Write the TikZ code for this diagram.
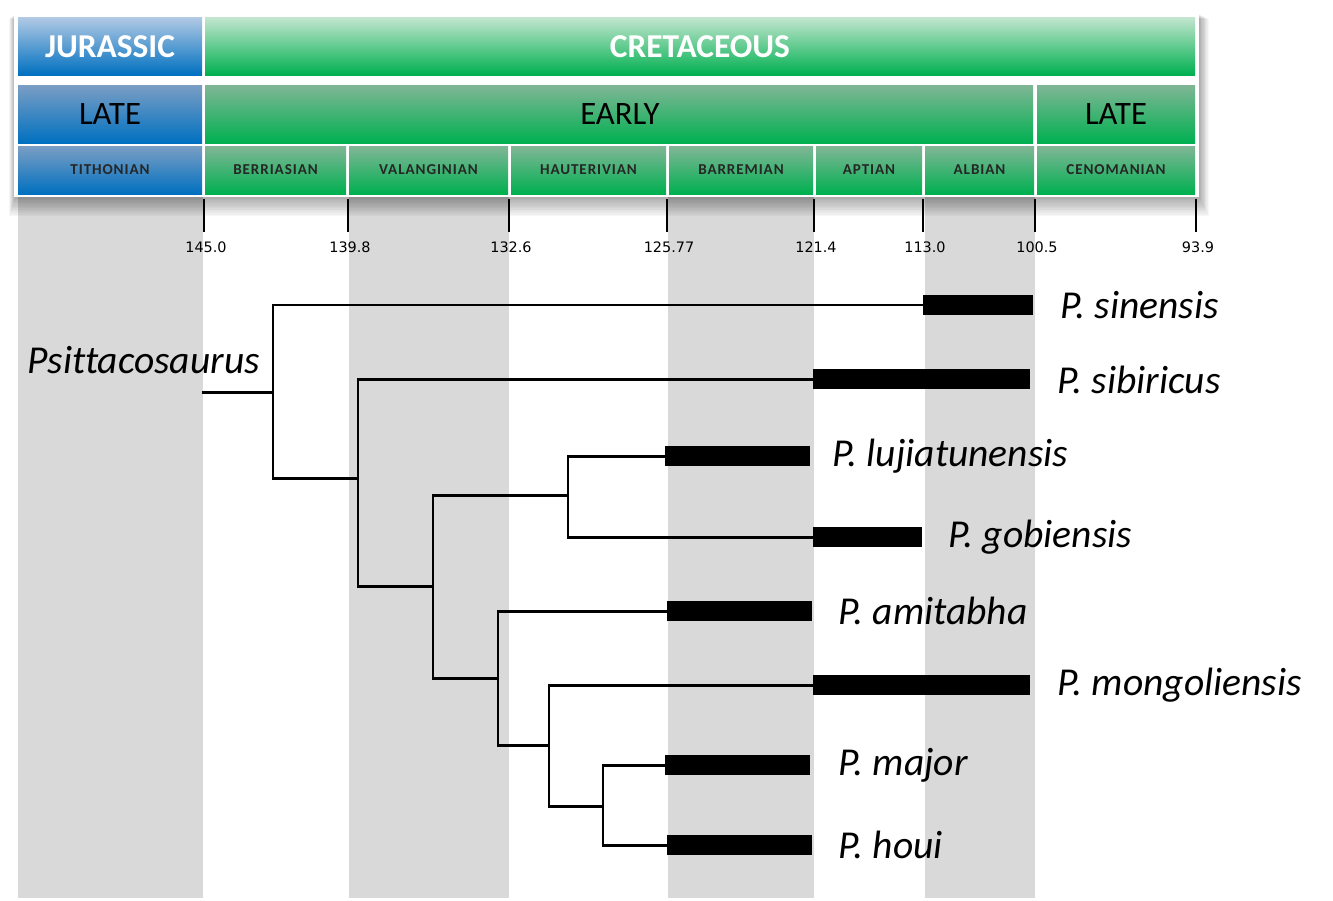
\documentclass[tikz,border=0pt]{standalone}
\usepackage{fontspec}
\setmainfont{Carlito}[Ligatures=NoCommon]
\newfontfamily\tickfont{DejaVu Sans}
\usepackage{tikz}

\definecolor{ptgreen}{RGB}{0,176,80}
\definecolor{ptblue}{RGB}{0,112,192}
\definecolor{greenpale}{RGB}{196,230,208}
\definecolor{greendull}{RGB}{128,182,150}
\definecolor{bluepale}{RGB}{178,202,228}
\definecolor{bluedull}{RGB}{122,158,196}
\definecolor{bandgray}{RGB}{217,217,217}

\tikzset{
  periodG/.style={top color=greenpale,middle color=ptgreen,bottom color=ptgreen},
  periodB/.style={top color=bluepale,middle color=ptblue,bottom color=ptblue},
  epochG/.style={top color=greendull,middle color=ptgreen,bottom color=ptgreen},
  epochB/.style={top color=bluedull,middle color=ptblue,bottom color=ptblue},
  periodtext/.style={text=white,font=\fontsize{19}{20}\selectfont\bfseries},
  epochtext/.style={text=black,font=\fontsize{18.6}{20}\selectfont},
  stagetext/.style={text=black!85,font=\fontsize{8.6}{9}\selectfont\bfseries\addfontfeatures{LetterSpace=6}},
  ticklabel/.style={font=\tickfont\fontsize{8.2}{9}\selectfont,inner sep=0pt},
  branch/.style={line width=1.7pt},
  rangebar/.style={line width=11pt},
  taxon/.style={anchor=west,inner sep=0pt,font=\fontsize{22.5}{24}\selectfont\itshape}
}

\begin{document}
\begin{tikzpicture}[x=0.02cm,y=-0.02cm]
                    \useasboundingbox (0,0) rectangle (1333,900);
                    % grey stage bands
                    \foreach \xa/\xb in {18/203,349/509,668/814,925/1035}
                        \fill[bandgray] (\xa,194) rectangle (\xb,898);
                    % soft shadow below the header
                    \foreach \s in {1,...,12}
                        \fill[black,opacity=0.03] (15-\s*0.5,14+\s*0.4) rectangle (1199+\s*0.8,197+\s*1.6);
                    \fill[white] (14,13) rectangle (1199,197);
                    % periods
                    \shade[periodB] (18,17) rectangle (202,75);
                    \shade[periodG] (205,17) rectangle (1195,75);
                    \node[periodtext] (jurassic) at (110,47) {JURASSIC};
                    \node[periodtext] (cretaceous) at (700,47) {CRETACEOUS};
                    % epochs
                    \shade[epochB] (18,85) rectangle (202,143);
                    \shade[epochG] (205,85) rectangle (1033,143);
                    \shade[epochG] (1037,85) rectangle (1195,143);
                    \node[epochtext] (lateJ) at (110,114) {LATE};
                    \node[epochtext] (early) at (620,114) {EARLY};
                    \node[epochtext] (lateK) at (1116,114) {LATE};
                    % stages
                    \shade[epochB] (18,146) rectangle (202,194);
                    \node[stagetext] (tithonian) at (110,170) {TITHONIAN};
                    \foreach \xa/\xb/\lbl/\nm in {205/346/BERRIASIAN/berriasian,349/508/VALANGINIAN/valanginian,
                        511/666/HAUTERIVIAN/hauterivian,669/813/BARREMIAN/barremian,816/922/APTIAN/aptian,
                        925/1034/ALBIAN/albian,1037/1195/CENOMANIAN/cenomanian}{
                        \shade[epochG] (\xa,146) rectangle (\xb,194);
                        \node[stagetext] (\nm) at ({(\xa+\xb)/2},170) {\lbl};
                    }
                    % time ticks
                    \foreach \tx/\age/\nm in {204/145.0/t1,348/139.8/t2,509/132.6/t3,667/125.77/t4,
                        814/121.4/t5,923/113.0/t6,1035/100.5/t7,1196/93.9/t8}{
                        \draw[line width=0.8pt] (\tx,199) -- (\tx,232);
                        \node[ticklabel] (\nm) at (\tx+2,247) {\age};
                    }
                    % tree
                    \coordinate (root) at (202,392);
                    \coordinate (n1) at (273,392);
                    \coordinate (n2) at (358,478);
                    \coordinate (n3) at (433,586);
                    \coordinate (n4) at (568,495);
                    \coordinate (n5) at (498,678);
                    \coordinate (n6) at (549,745);
                    \coordinate (n7) at (603,806);
                    \coordinate (sinA) at (923,305);  \coordinate (sinB) at (1033,305);
                    \coordinate (sibA) at (813,379);  \coordinate (sibB) at (1030,379);
                    \coordinate (lujA) at (665,456);  \coordinate (lujB) at (810,456);
                    \coordinate (gobA) at (813,537);  \coordinate (gobB) at (922,537);
                    \coordinate (amiA) at (667,611);  \coordinate (amiB) at (812,611);
                    \coordinate (monA) at (813,685);  \coordinate (monB) at (1030,685);
                    \coordinate (majA) at (665,765);  \coordinate (majB) at (810,765);
                    \coordinate (houA) at (667,845);  \coordinate (houB) at (812,845);
                    \draw[branch] (root) -- (n1);
                    \draw[branch] (n1) |- (sinA);
                    \draw[branch] (n1) |- (n2);
                    \draw[branch] (n2) |- (sibA);
                    \draw[branch] (n2) |- (n3);
                    \draw[branch] (n3) |- (n4);
                    \draw[branch] (n3) |- (n5);
                    \draw[branch] (n4) |- (lujA);
                    \draw[branch] (n4) |- (gobA);
                    \draw[branch] (n5) |- (amiA);
                    \draw[branch] (n5) |- (n6);
                    \draw[branch] (n6) |- (monA);
                    \draw[branch] (n6) |- (n7);
                    \draw[branch] (n7) |- (majA);
                    \draw[branch] (n7) |- (houA);
                    \foreach \sp in {sin,sib,luj,gob,ami,mon,maj,hou}
                        \draw[rangebar] (\sp A) -- (\sp B);
                    % names
                    \node[taxon] (genus) at (27,360) {Psittacosaurus};
                    \node[taxon] (sinensis) at (1060,305) {P. sinensis};
                    \node[taxon] (sibiricus) at (1057,380) {P. sibiricus};
                    \node[taxon] (lujiatunensis) at (832,456) {P. lujiatunensis};
                    \node[taxon] (gobiensis) at (948,537) {P. gobiensis};
                    \node[taxon] (amitabha) at (838,611) {P. amitabha};
                    \node[taxon] (mongoliensis) at (1057,685) {P. mongoliensis};
                    \node[taxon] (major) at (838,765) {P. major};
                    \node[taxon] (houi) at (838,845) {P. houi};
                \end{tikzpicture}
\end{document}
